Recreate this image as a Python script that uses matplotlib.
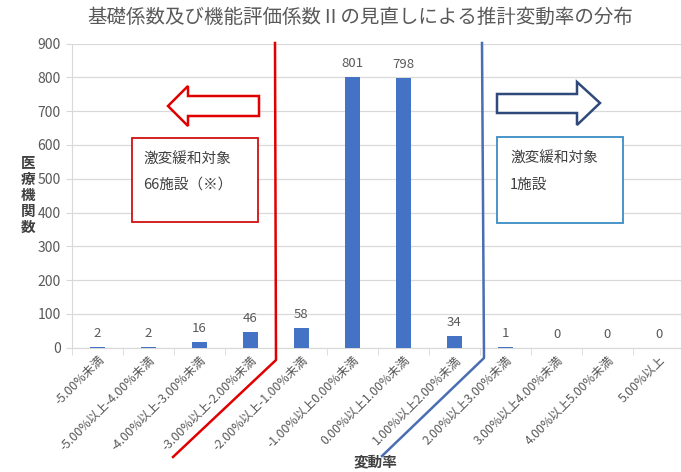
import matplotlib
matplotlib.use("Agg")
import matplotlib.pyplot as plt
from matplotlib.patches import Polygon, Rectangle
from matplotlib.lines import Line2D

plt.rcParams['font.family'] = ['Noto Sans CJK JP', 'DejaVu Sans']

categories = ["-5.00%未満", "-5.00%以上-4.00%未満", "-4.00%以上-3.00%未満",
              "-3.00%以上-2.00%未満", "-2.00%以上-1.00%未満", "-1.00%以上0.00%未満",
              "0.00%以上1.00%未満", "1.00%以上2.00%未満", "2.00%以上3.00%未満",
              "3.00%以上4.00%未満", "4.00%以上5.00%未満", "5.00%以上"]
counts = [2, 2, 16, 46, 58, 801, 798, 34, 1, 0, 0, 0]
yticks = list(range(0, 901, 100))

title = "基礎係数及び機能評価係数Ⅱの見直しによる推計変動率の分布"
xlabel = "変動率"
ylabel = "医療機関数"
left_note = ["激変緩和対象", "66施設（※）"]
right_note = ["激変緩和対象", "1施設"]

W, H = 681, 472
fig = plt.figure(figsize=(W / 100, H / 100), dpi=100)

def px(x, y):
    return (x / W, 1 - y / H)

ax_l, ax_r, ax_t, ax_b = 72, 684, 43.5, 347.7
ax = fig.add_axes([ax_l / W, 1 - ax_b / H, (ax_r - ax_l) / W, (ax_b - ax_t) / H])

gray = "#595959"
grid = "#D9D9D9"
xs = list(range(len(categories)))
ax.bar(xs, counts, width=0.31, color="#4472C4", zorder=3)
for x, v in zip(xs, counts):
    ax.annotate(str(v), (x, v), xytext=(0, 5), textcoords="offset points",
                ha="center", va="bottom", fontsize=9.5, color=gray)

ax.set_xlim(-0.5, len(categories) - 0.5)
ax.set_ylim(0, 900)
ax.set_yticks(yticks)
ax.set_yticklabels([str(t) for t in yticks], fontsize=10, color=gray)
ax.yaxis.grid(True, color=grid, lw=0.9, zorder=0)
ax.tick_params(axis="y", length=4, color=grid, pad=4)
ax.set_xticks(xs)
ax.set_xticklabels(categories, rotation=45, ha="right", va="top",
                   rotation_mode="anchor", fontsize=8.8, color=gray)
ax.tick_params(axis="x", length=0, pad=4)
ax.set_xticks([i - 0.5 for i in range(len(categories) + 1)], minor=True)
ax.tick_params(axis="x", which="minor", length=5, color=grid)
for s in ["top", "right"]:
    ax.spines[s].set_visible(False)
ax.spines["left"].set_color(grid)
ax.spines["bottom"].set_color(grid)

fig.text(*px(360, 17), title, ha="center", va="center", fontsize=14, color=gray)
fig.text(*px(375, 461), xlabel, ha="center", va="center", fontsize=10.5,
         color="#404040", fontweight="bold")
fig.text(*px(28, 195), "\n".join(ylabel), ha="center", va="center", fontsize=10.5,
         color="#404040", fontweight="bold", linespacing=1.0)

# red separator line
red = "#E00000"
fig.add_artist(Line2D([px(275, 43)[0], px(276, 360)[0], px(173, 457)[0]],
                      [px(275, 43)[1], px(276, 360)[1], px(173, 457)[1]],
                      color=red, lw=1.8, transform=fig.transFigure, zorder=5))
# blue separator line
blue = "#4A6DB3"
fig.add_artist(Line2D([px(482, 43)[0], px(484, 358)[0], px(382, 456)[0]],
                      [px(482, 43)[1], px(484, 358)[1], px(382, 456)[1]],
                      color=blue, lw=1.8, transform=fig.transFigure, zorder=5))

# left arrow
la = [(168, 106), (188, 86), (188, 96), (259, 96), (259, 116), (188, 116), (188, 126)]
fig.add_artist(Polygon([px(*p) for p in la], closed=True, facecolor="white",
                       edgecolor=red, lw=1.8, transform=fig.transFigure, zorder=5))
# right arrow
ra = [(600, 103), (577, 82), (577, 94), (497, 94), (497, 113), (577, 113), (577, 125)]
fig.add_artist(Polygon([px(*p) for p in ra], closed=True, facecolor="white",
                       edgecolor="#2F4A7A", lw=1.8, transform=fig.transFigure, zorder=5))

# boxes
x0, y0 = px(132, 222)
x1, y1 = px(258, 138)
fig.add_artist(Rectangle((x0, y0), x1 - x0, y1 - y0, facecolor="white", edgecolor="#D01010",
                         lw=1.3, transform=fig.transFigure, zorder=5))
fig.text(*px(143, 160), left_note[0], ha="left", va="center", fontsize=10.5, color="#404040", zorder=6)
fig.text(*px(143, 185), left_note[1], ha="left", va="center", fontsize=10.5, color="#404040", zorder=6)

x0, y0 = px(497, 223)
x1, y1 = px(623, 137)
fig.add_artist(Rectangle((x0, y0), x1 - x0, y1 - y0, facecolor="white", edgecolor="#3A8CC4",
                         lw=1.3, transform=fig.transFigure, zorder=5))
fig.text(*px(510, 159), right_note[0], ha="left", va="center", fontsize=10.5, color="#404040", zorder=6)
fig.text(*px(510, 185), right_note[1], ha="left", va="center", fontsize=10.5, color="#404040", zorder=6)

fig.savefig("out.png", dpi=100, facecolor="white")
